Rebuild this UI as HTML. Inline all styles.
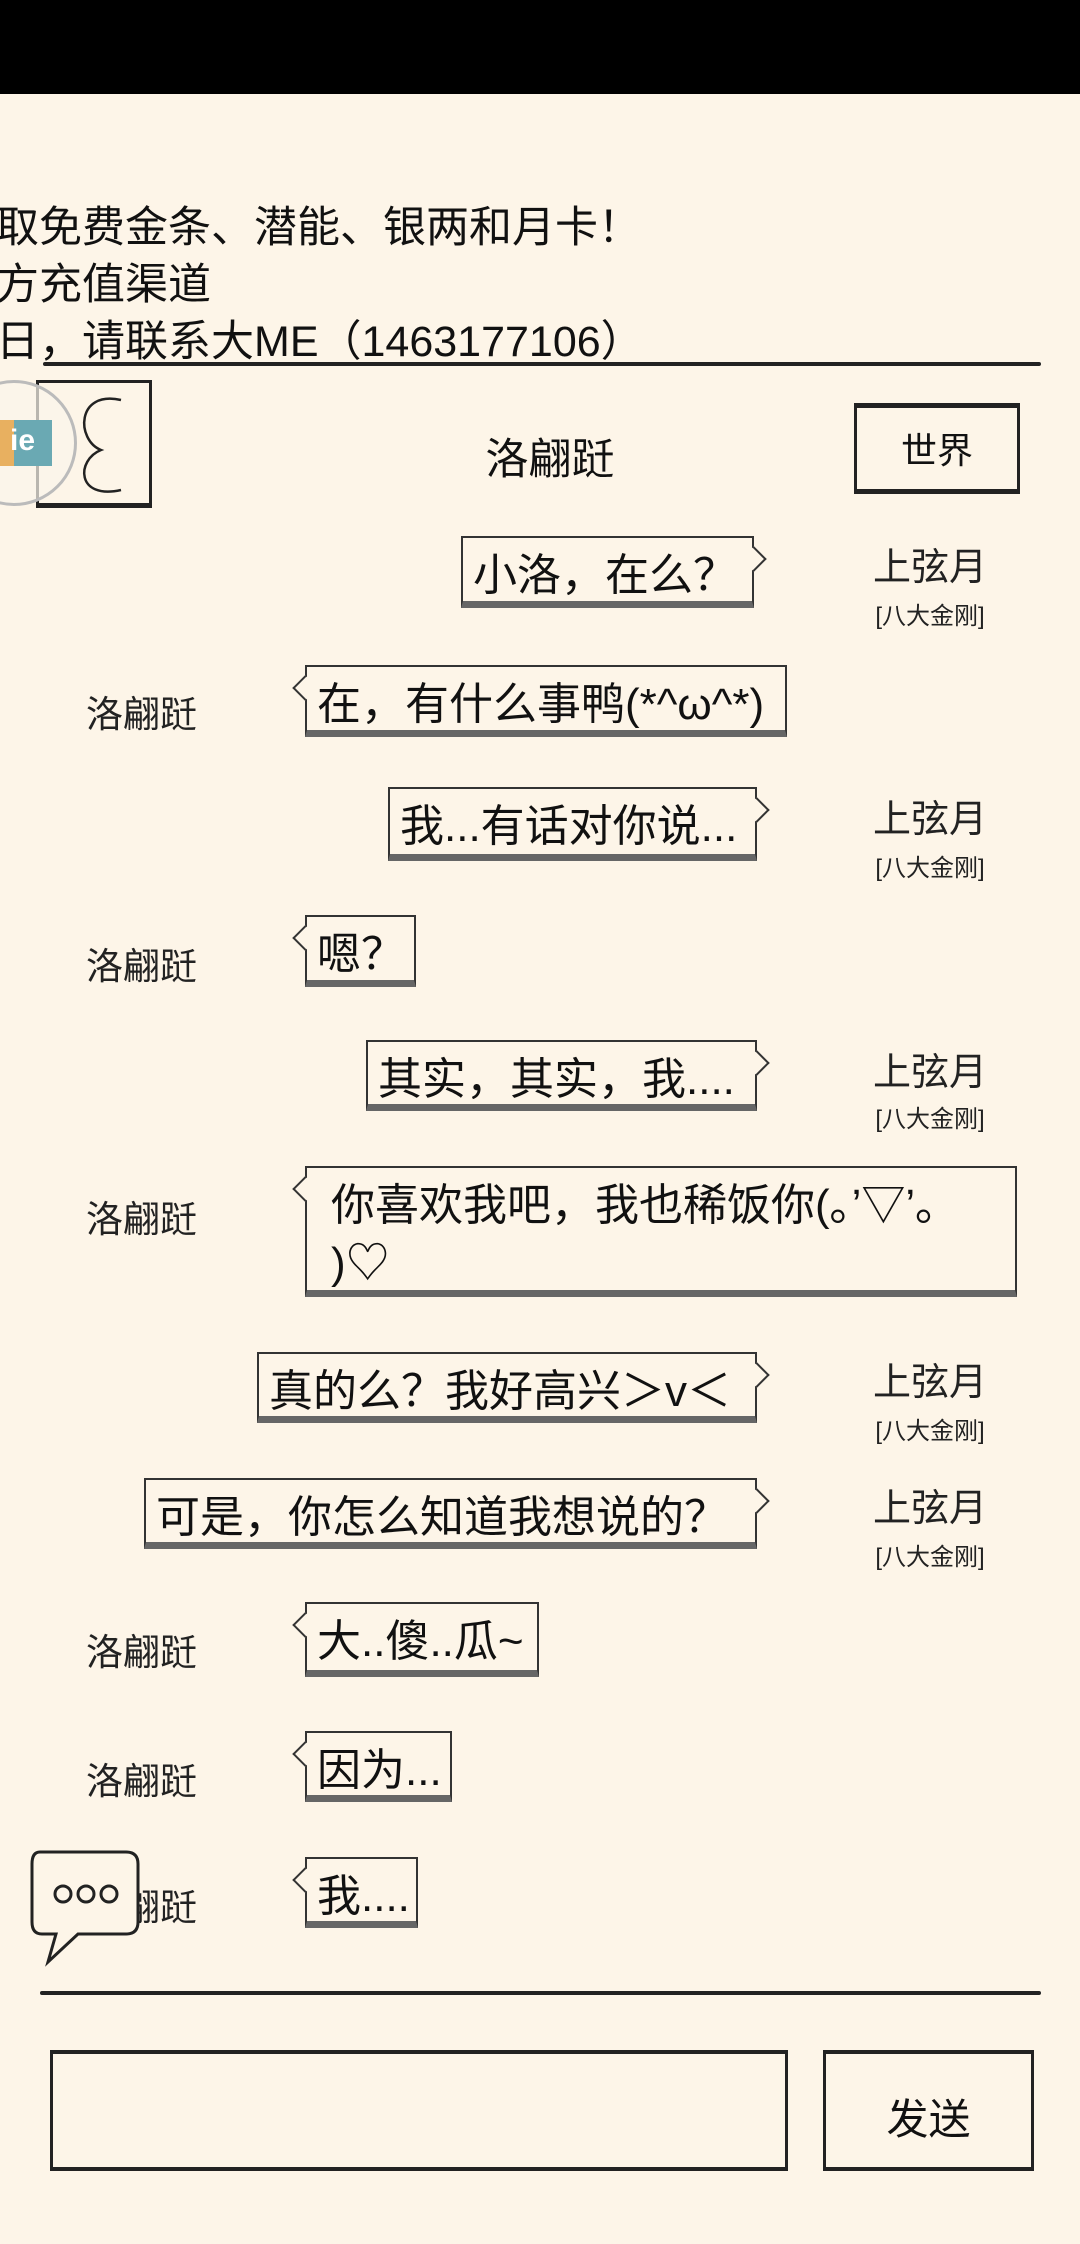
<!DOCTYPE html>
<html><head><meta charset="utf-8"><style>
*{margin:0;padding:0;box-sizing:border-box}
body{width:1080px;height:2244px;background:#fdf5e8;position:relative;overflow:hidden;font-family:"Liberation Sans","Noto Sans CJK SC",sans-serif;color:#111}
.a{position:absolute;white-space:nowrap}
.top{left:0;top:0;width:1080px;height:94px;background:#000}
.tl{font-size:43px;left:-4px;line-height:56px}
.hr{height:4px;background:#222;border-radius:2px}
.b{position:absolute;border:2px solid #333;border-bottom:7px solid #666;background:#fdf5e8;font-size:44px;line-height:58px;padding:9px 10px 0;white-space:nowrap}
.tr::after,.tl2::after{content:"";position:absolute;top:12px;width:16px;height:16px;border-top:2px solid #333;border-right:2px solid #333;background:#fdf5e8}
.tr::after{right:-11px;transform:rotate(45deg)}
.tl2::after{left:-11px;transform:rotate(-135deg)}
.nm{font-size:37px;color:#222}
.nr{font-size:38px;color:#222;width:160px;text-align:center;left:850px}
.sub{font-size:24px;color:#222;width:160px;text-align:center;left:850px}
</style></head><body>
<div class="a top"></div>
<div class="a tl" style="top:200px">取免费金条、潜能、银两和月卡！</div>
<div class="a tl" style="top:257px">方充值渠道</div>
<div class="a tl" style="top:314px">日，请联系大ME（1463177106）</div>
<div class="a hr" style="left:43px;top:362px;width:998px"></div>

<div class="a" style="left:36px;top:380px;width:116px;height:128px;border:3px solid #222;border-bottom-width:5px"></div>
<svg class="a" style="left:36px;top:380px" width="116" height="128"><path d="M85 20 C40 10 40 60 65 70 C40 80 40 120 85 110" fill="none" stroke="#222" stroke-width="2.5"/></svg>
<div class="a" style="left:-49px;top:380px;width:126px;height:126px;border-radius:50%;border:3px solid #bbb;background:rgba(250,245,235,0.7)"></div>
<div class="a" style="left:0;top:420px;width:52px;height:46px;background:#6aa9b3"></div>
<div class="a" style="left:0;top:420px;width:14px;height:46px;background:#e8b060"></div>
<div class="a" style="left:10px;top:424px;font-size:30px;font-weight:bold;color:#fff">ie</div>

<div class="a" style="left:470px;top:425px;font-size:43px;width:160px;text-align:center">洛翩跹</div>
<div class="a" style="left:854px;top:403px;width:166px;height:91px;border:3px solid #222;border-top-width:5px;border-bottom-width:5px"></div>
<div class="a" style="left:854px;top:422px;width:166px;text-align:center;font-size:36px">世界</div>

<div class="b tr" style="left:461px;top:536px;width:293px;height:72px">小洛，在么？</div>
<div class="a nr" style="top:536px">上弦月</div><div class="a sub" style="top:596px">[八大金刚]</div>
<div class="a nm" style="left:86px;top:684px">洛翩跹</div>
<div class="b tl2" style="left:305px;top:665px;width:482px;height:72px">在，有什么事鸭(*^ω^*)</div>
<div class="b tr" style="left:388px;top:787px;width:369px;height:74px">我...有话对你说...</div>
<div class="a nr" style="top:788px">上弦月</div><div class="a sub" style="top:848px">[八大金刚]</div>
<div class="a nm" style="left:86px;top:936px">洛翩跹</div>
<div class="b tl2" style="left:305px;top:915px;width:111px;height:72px">嗯？</div>
<div class="b tr" style="left:366px;top:1040px;width:391px;height:71px">其实，其实，我....</div>
<div class="a nr" style="top:1041px">上弦月</div><div class="a sub" style="top:1099px">[八大金刚]</div>
<div class="a nm" style="left:86px;top:1189px">洛翩跹</div>
<div class="b tl2" style="left:305px;top:1166px;width:712px;height:131px;padding-left:24px">你喜欢我吧，我也稀饭你(｡’▽’｡<br>)♡</div>
<div class="b tr" style="left:257px;top:1352px;width:500px;height:71px">真的么？我好高兴＞v＜</div>
<div class="a nr" style="top:1351px">上弦月</div><div class="a sub" style="top:1411px">[八大金刚]</div>
<div class="b tr" style="left:144px;top:1478px;width:613px;height:71px">可是，你怎么知道我想说的？</div>
<div class="a nr" style="top:1477px">上弦月</div><div class="a sub" style="top:1537px">[八大金刚]</div>
<div class="a nm" style="left:86px;top:1622px">洛翩跹</div>
<div class="b tl2" style="left:305px;top:1602px;width:234px;height:75px">大..傻..瓜~</div>
<div class="a nm" style="left:86px;top:1751px">洛翩跹</div>
<div class="b tl2" style="left:305px;top:1731px;width:147px;height:71px">因为...</div>
<div class="a nm" style="left:86px;top:1877px">洛翩跹</div>
<div class="b tl2" style="left:305px;top:1857px;width:113px;height:71px">我....</div>

<svg class="a" style="left:30px;top:1848px" width="120" height="120"><path d="M10 4 H96 Q108 4 108 16 V74 Q108 86 96 86 H48 L18 114 L26 86 H12 Q2 86 2 74 V16 Q2 4 10 4 Z" fill="#fdf5e8" stroke="#222" stroke-width="3"/><circle cx="33" cy="46" r="8" fill="none" stroke="#222" stroke-width="3"/><circle cx="56" cy="46" r="8" fill="none" stroke="#222" stroke-width="3"/><circle cx="79" cy="46" r="8" fill="none" stroke="#222" stroke-width="3"/></svg>

<div class="a hr" style="left:40px;top:1991px;width:1001px"></div>
<div class="a" style="left:50px;top:2050px;width:738px;height:121px;border:3px solid #222;border-top-width:4px;border-bottom-width:4px"></div>
<div class="a" style="left:823px;top:2050px;width:211px;height:121px;border:3px solid #222;border-top-width:4px;border-bottom-width:4px"></div>
<div class="a" style="left:823px;top:2086px;width:211px;text-align:center;font-size:42px">发送</div>
</body></html>
